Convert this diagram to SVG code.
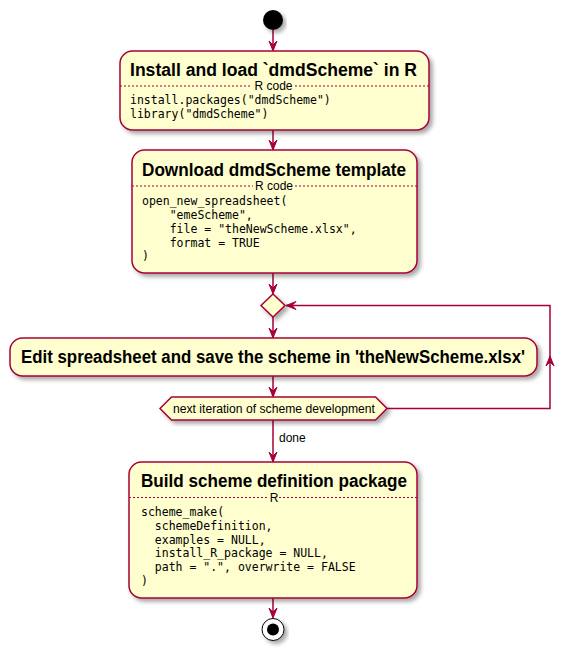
<svg xmlns="http://www.w3.org/2000/svg" width="574" height="650" viewBox="0 0 574 650">
<defs>
  <filter id="sh" x="-20%" y="-20%" width="140%" height="150%">
    <feDropShadow dx="3" dy="3" stdDeviation="2" flood-color="#000" flood-opacity="0.35"/>
  </filter>
</defs>
<style>
  .box{fill:#FEFECE;stroke:#A80036;stroke-width:1.5;filter:url(#sh)}
  .sep{stroke:#A80036;stroke-width:1;stroke-dasharray:2,2;fill:none}
  .ln{stroke:#A80036;stroke-width:1.5;fill:none}
  .ah{fill:#A80036;stroke:#A80036;stroke-width:1}
  .title{font-family:"Liberation Sans",Arial,sans-serif;font-weight:bold;font-size:17.5px;fill:#000;text-anchor:middle}
  .small{font-family:"Liberation Sans",Arial,sans-serif;font-size:12px;fill:#000}
  .code{font-family:"DejaVu Sans Mono","Liberation Mono",monospace;font-size:11.5px;fill:#000}
</style>
<rect width="574" height="650" fill="#FFFFFF"/>

<g id="connectors">
  <line class="ln" x1="273" y1="30" x2="273" y2="50"/>
  <polygon class="ah" points="269,41 273,51 277,41 273,45"/>
  <line class="ln" x1="273" y1="130" x2="273" y2="149"/>
  <polygon class="ah" points="269,140 273,150 277,140 273,144"/>
  <line class="ln" x1="273" y1="273" x2="273" y2="293"/>
  <polygon class="ah" points="269,284 273,294 277,284 273,288"/>
  <line class="ln" x1="273" y1="317" x2="273" y2="337"/>
  <polygon class="ah" points="269,328 273,338 277,328 273,332"/>
  <line class="ln" x1="273" y1="376" x2="273" y2="396"/>
  <polygon class="ah" points="269,387 273,397 277,387 273,391"/>
  <line class="ln" x1="273" y1="420" x2="273" y2="461"/>
  <polygon class="ah" points="269,452 273,462 277,452 273,456"/>
  <text class="small" x="279" y="442">done</text>
  <line class="ln" x1="273" y1="598" x2="273" y2="617"/>
  <polygon class="ah" points="269,608 273,618 277,608 273,612"/>
  <polyline class="ln" points="387,408.5 550,408.5 550,305.5 286,305.5"/>
  <polygon class="ah" points="546,366 550,356 554,366 550,362"/>
  <polygon class="ah" points="296,301.5 286,305.5 296,309.5 292,305.5"/>
</g>

<g id="start">
  <circle cx="273" cy="20" r="10" fill="#000000" filter="url(#sh)"/>
</g>

<g id="install">
  <rect class="box" x="120" y="51" width="309" height="79" rx="12.5" ry="12.5"/>
  <text class="title" x="273.5" y="76" textLength="287" lengthAdjust="spacingAndGlyphs">Install and load `dmdScheme` in R</text>
  <line class="sep" x1="120" y1="86" x2="252" y2="86"/>
  <line class="sep" x1="295" y1="86" x2="429" y2="86"/>
  <text class="small" x="273.5" y="90" text-anchor="middle">R code</text>
  <text class="code" x="130" y="103.5">install.packages("dmdScheme")</text>
  <text class="code" x="130" y="117.5">library("dmdScheme")</text>
</g>

<g id="download">
  <rect class="box" x="132" y="150" width="285" height="123" rx="12.5" ry="12.5"/>
  <text class="title" x="274" y="176" textLength="264" lengthAdjust="spacingAndGlyphs">Download dmdScheme template</text>
  <line class="sep" x1="132" y1="186" x2="253" y2="186"/>
  <line class="sep" x1="295" y1="186" x2="417" y2="186"/>
  <text class="small" x="274" y="190" text-anchor="middle">R code</text>
  <text class="code" x="142" y="205.3">open_new_spreadsheet(</text>
  <text class="code" x="169.7" y="219">"emeScheme",</text>
  <text class="code" x="169.7" y="232.8">file = "theNewScheme.xlsx",</text>
  <text class="code" x="169.7" y="246.6">format = TRUE</text>
  <text class="code" x="142" y="260.4">)</text>
</g>

<g id="merge">
  <polygon class="box" points="273,294 285,305.5 273,317 261,305.5"/>
</g>

<g id="edit">
  <rect class="box" x="10" y="338" width="527" height="38" rx="12.5" ry="12.5"/>
  <text class="title" x="273" y="362.5" textLength="504" lengthAdjust="spacingAndGlyphs">Edit spreadsheet and save the scheme in 'theNewScheme.xlsx'</text>
</g>

<g id="loopcheck">
  <polygon class="box" points="160,408.5 171.5,397 375.5,397 387,408.5 375.5,420 171.5,420"/>
  <text class="small" x="173" y="412.5" textLength="202" lengthAdjust="spacingAndGlyphs">next iteration of scheme development</text>
</g>

<g id="build">
  <rect class="box" x="129" y="462" width="288" height="136" rx="12.5" ry="12.5"/>
  <text class="title" x="274" y="486.5" textLength="266" lengthAdjust="spacingAndGlyphs">Build scheme definition package</text>
  <line class="sep" x1="129" y1="497.5" x2="269" y2="497.5"/>
  <line class="sep" x1="279" y1="497.5" x2="417" y2="497.5"/>
  <text class="small" x="274" y="501.5" text-anchor="middle">R</text>
  <text class="code" x="141" y="516">scheme_make(</text>
  <text class="code" x="154.8" y="529.8">schemeDefinition,</text>
  <text class="code" x="154.8" y="543.6">examples = NULL,</text>
  <text class="code" x="154.8" y="557.4">install_R_package = NULL,</text>
  <text class="code" x="154.8" y="571.2">path = ".", overwrite = FALSE</text>
  <text class="code" x="141" y="585">)</text>
</g>

<g id="end">
  <circle cx="273" cy="629.5" r="11" fill="#FFFFFF" stroke="#000000" stroke-width="1" filter="url(#sh)"/>
  <circle cx="273" cy="629.5" r="6" fill="#000000"/>
</g>
</svg>
